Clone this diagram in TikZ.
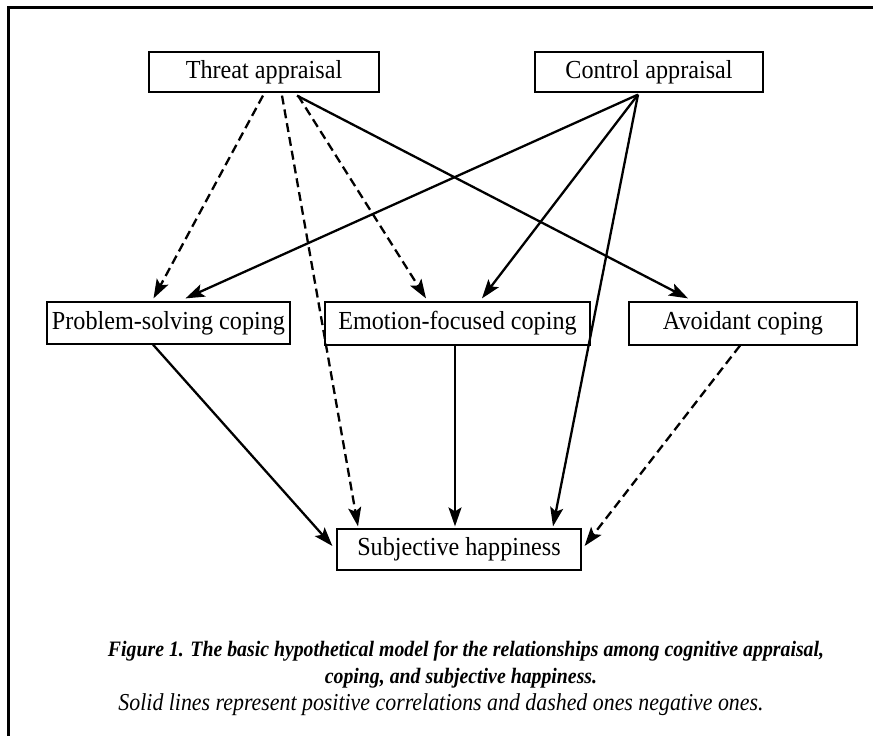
\documentclass[tikz,border=0pt]{standalone}
\usepackage{fontspec}
\setmainfont{Liberation Serif}
\newfontfamily\boxfont[FakeStretch=0.93]{Liberation Serif}
\newfontfamily\capfont[FakeStretch=0.9]{Liberation Serif}
\usetikzlibrary{arrows.meta}
\begin{document}
\begin{tikzpicture}[x=1pt,y=-1pt,
  box/.style={draw, line width=1.2pt, inner sep=0pt, font=\boxfont\fontsize{26}{30}\selectfont},
  posarrow/.style={line width=2.3pt, -{Stealth[length=19pt,width=13pt,inset=4pt]}},
  negarrow/.style={posarrow, dash pattern=on 9pt off 5pt},
  capline/.style={anchor=base, inner sep=0pt}
]
\useasboundingbox (0,0) rectangle (873,736);
\draw[line width=3pt] (8,736) -- (8,7) -- (873,7);

\node[box, minimum width=230pt, minimum height=40pt] (threat) at (264,72) {Threat appraisal};
\node[box, minimum width=228pt, minimum height=40pt] (control) at (649,72) {Control appraisal};
\node[box, minimum width=243pt, minimum height=42pt] (ps) at (168.5,323) {Problem-solving coping};
\node[box, minimum width=265pt, minimum height=43pt] (ef) at (457.5,323.5) {Emotion-focused coping};
\node[box, minimum width=228pt, minimum height=43pt] (av) at (743,323.5) {Avoidant coping};
\node[box, minimum width=244pt, minimum height=41pt] (sh) at (459,549.5) {Subjective happiness};

% from threat appraisal
\draw[negarrow] ([xshift=-1pt,yshift=-3pt]threat.south) -- ([xshift=-15pt,yshift=3pt]ps.north);
\draw[negarrow] ([xshift=18pt,yshift=-3pt]threat.south) -- ([xshift=-101pt,yshift=2pt]sh.north);
\draw[negarrow] ([xshift=34pt,yshift=-3pt]threat.south) -- ([xshift=-31.5pt,yshift=3pt]ef.north);
\draw[posarrow] ([xshift=33pt,yshift=-3pt]threat.south) -- ([xshift=-55pt,yshift=3pt]av.north);
% from control appraisal
\draw[posarrow] ([xshift=-11pt,yshift=-2pt]control.south) -- ([xshift=17pt,yshift=3pt]ps.north);
\draw[posarrow] ([xshift=-11pt,yshift=-2pt]control.south) -- ([xshift=24.5pt,yshift=3pt]ef.north);
\draw[posarrow] ([xshift=-11pt,yshift=-2pt]control.south) -- ([xshift=94pt,yshift=2pt]sh.north);
% to subjective happiness
\draw[posarrow] ([xshift=-15.5pt]ps.south) -- ([xshift=-4pt,yshift=3.5pt]sh.west);
\draw[posarrow] ([xshift=-2.5pt]ef.south) -- ([xshift=-4pt,yshift=2pt]sh.north);
\draw[negarrow] ([xshift=-3pt]av.south) -- ([xshift=3pt,yshift=3.5pt]sh.east);

\node[capline, font=\capfont\fontsize{22}{26}\selectfont\bfseries\itshape] (cap1) at (466,656)
  {Figure 1. The basic hypothetical model for the relationships among cognitive appraisal,};
\node[capline, font=\capfont\fontsize{22}{26}\selectfont\bfseries\itshape] (cap2) at (461,683)
  {coping, and subjective happiness.};
\node[capline, font=\capfont\fontsize{24.3}{27}\selectfont\itshape] (cap3) at (441,710)
  {Solid lines represent positive correlations and dashed ones negative ones.};
\end{tikzpicture}
\end{document}
